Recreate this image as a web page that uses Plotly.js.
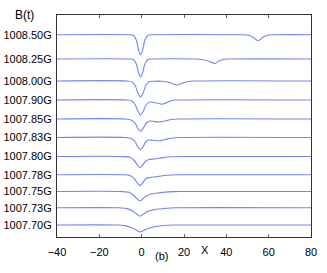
<!DOCTYPE html>
<html>
<head>
<meta charset="utf-8">
<script src="https://cdn.plot.ly/plotly-3.0.1.min.js"></script>
<style>html,body{margin:0;padding:0;background:#fff;}#chart{width:327px;height:273px;}</style>
</head>
<body>
<div id="chart"></div>
<script>
// Tick labels (field values), top to bottom
const labels = ["1008.50G","1008.25G","1008.00G","1007.90G","1007.85G","1007.83G","1007.80G","1007.78G","1007.75G","1007.73G","1007.70G"];
// Vertical offset (baseline) of each stacked trace
const offsets = [20.23, 17.8, 15.6, 13.7, 11.8, 9.95, 8.05, 6.23, 4.55, 2.92, 1.2];
const xTicks = [-40, -20, 0, 20, 40, 60, 80];

// Each trace: x positions and deflection B(t)
const x_1008_50 = [-40,-6,-4,-2.5,-1.5,-0.5,0.5,1.5,3,5,45,50,52.5,55,57.5,60,65,80];
const b_1008_50 = [0,0,-0.05,-0.55,-1.5,-2.0,-1.5,-0.55,-0.05,0,0,-0.03,-0.22,-0.6,-0.22,-0.03,0,0];

const x_1008_25 = [-40,-6,-4,-2.5,-1.5,-0.5,0.5,1.5,3,5,25,29,32,34.6,36.5,39,42,80];
const b_1008_25 = [0,0,-0.05,-0.5,-1.35,-1.8,-1.35,-0.5,-0.05,0,0,-0.08,-0.25,-0.45,-0.2,-0.03,0,0];

const x_1008_00 = [-40,-7,-4.5,-3,-1.8,-0.5,0.7,2,3.5,6,10,13,15.5,17.2,19.5,22,25,80];
const b_1008_00 = [0,0,-0.1,-0.5,-1.2,-1.6,-1.2,-0.4,-0.08,-0.02,-0.03,-0.15,-0.35,-0.4,-0.2,-0.05,0,0];

const x_1007_90 = [-40,-7,-4.5,-3,-1.8,-0.5,0.8,2.2,4,6.5,9,10.2,12,14,17,80];
const b_1007_90 = [0,0,-0.1,-0.5,-1.1,-1.5,-1.1,-0.45,-0.2,-0.28,-0.4,-0.4,-0.25,-0.05,0,0];

const x_1007_85 = [-40,-8,-5,-3,-1.8,-0.5,0.8,2.2,4,6,8.5,11,14,17,80];
const b_1007_85 = [0,0,-0.1,-0.45,-0.95,-1.25,-0.9,-0.4,-0.2,-0.25,-0.3,-0.2,-0.05,0,0];

const x_1007_83 = [-40,-8,-5,-3,-1.8,-0.6,0.7,2,3.5,5.5,8,11,14,18,80];
const b_1007_83 = [0,0,-0.1,-0.45,-0.95,-1.22,-0.9,-0.4,-0.25,-0.28,-0.33,-0.2,-0.07,0,0];

const x_1007_80 = [-40,-9,-5.5,-3.5,-2,-0.8,0.5,2,3.5,6,8.5,11,14,18,80];
const b_1007_80 = [0,0,-0.08,-0.4,-0.85,-1.1,-0.85,-0.45,-0.3,-0.25,-0.18,-0.08,-0.02,0,0];

const x_1007_78 = [-40,-9,-5.5,-3.5,-2,-0.8,0.5,2,4,7,10,14,18,80];
const b_1007_78 = [0,0,-0.08,-0.4,-0.85,-1.1,-0.8,-0.4,-0.28,-0.2,-0.1,-0.03,0,0];

const x_1007_75 = [-40,-10,-6,-4,-2.3,-0.8,0.6,2.2,4.5,7.5,11,15,20,80];
const b_1007_75 = [0,0,-0.08,-0.35,-0.7,-0.95,-0.72,-0.42,-0.25,-0.15,-0.06,-0.01,0,0];

const x_1007_73 = [-40,-11,-7,-4.5,-2.5,-0.8,0.8,2.5,5,8,12,16,80];
const b_1007_73 = [0,0,-0.08,-0.3,-0.6,-0.85,-0.65,-0.4,-0.23,-0.12,-0.04,0,0];

const x_1007_70 = [-40,-12,-8,-5,-2.8,-0.8,1,3,5.5,8.5,12,16,80];
const b_1007_70 = [0,0,-0.06,-0.25,-0.48,-0.7,-0.55,-0.35,-0.2,-0.1,-0.03,0,0];

const xs = [x_1008_50,x_1008_25,x_1008_00,x_1007_90,x_1007_85,x_1007_83,x_1007_80,x_1007_78,x_1007_75,x_1007_73,x_1007_70];
const bs = [b_1008_50,b_1008_25,b_1008_00,b_1007_90,b_1007_85,b_1007_83,b_1007_80,b_1007_78,b_1007_75,b_1007_73,b_1007_70];

const traces = xs.map((x, i) => ({
  x: x,
  y: bs[i].map(v => v + offsets[i]),
  type: 'scatter',
  mode: 'lines',
  line: {color: '#7383f5', width: 1.1, shape: 'spline', smoothing: 0.8},
  name: labels[i],
  hoverinfo: 'skip'
}));

const fontFam = '"Liberation Sans", Arial, Helvetica, sans-serif';

const layout = {
  width: 327, height: 273,
  margin: {l: 57, r: 16, t: 15, b: 36},
  paper_bgcolor: '#fff', plot_bgcolor: '#fff',
  showlegend: false,
  font: {family: fontFam, size: 11, color: '#000'},
  xaxis: {
    range: [-40, 80], tickvals: xTicks, ticktext: xTicks.map(v => v < 0 ? '\u2212' + Math.abs(v) : String(v)),
    ticks: 'inside', ticklen: 3, tickcolor: '#666', tickwidth: 1,
    showline: true, linecolor: '#333', linewidth: 1, mirror: 'ticks',
    showgrid: false, zeroline: false, fixedrange: true,
    ticklabelstandoff: 5,
    tickfont: {family: fontFam, size: 11, color: '#000'}
  },
  yaxis: {
    range: [0, 22.2], tickvals: offsets, ticktext: labels,
    ticks: '', showline: true, linecolor: '#333', linewidth: 1, mirror: true,
    showgrid: false, zeroline: false, fixedrange: true,
    ticklabelstandoff: 2,
    tickfont: {family: fontFam, size: 11, color: '#000'}
  },
  annotations: [
    {text: 'B(t)', xref: 'paper', yref: 'paper', x: -0.128, y: 1.0, xanchor: 'center', yanchor: 'middle', showarrow: false, font: {family: fontFam, size: 12, color: '#000'}},
    {text: 'X', xref: 'x', yref: 'paper', x: 30, y: -0.06, xanchor: 'center', yanchor: 'middle', showarrow: false, font: {family: fontFam, size: 11, color: '#000'}},
    {text: '(b)', xref: 'x', yref: 'paper', x: 9.4, y: -0.086, xanchor: 'center', yanchor: 'middle', showarrow: false, font: {family: fontFam, size: 11, color: '#000'}}
  ]
};

Plotly.newPlot('chart', traces, layout, {displayModeBar: false, staticPlot: true});
</script>
</body>
</html>
